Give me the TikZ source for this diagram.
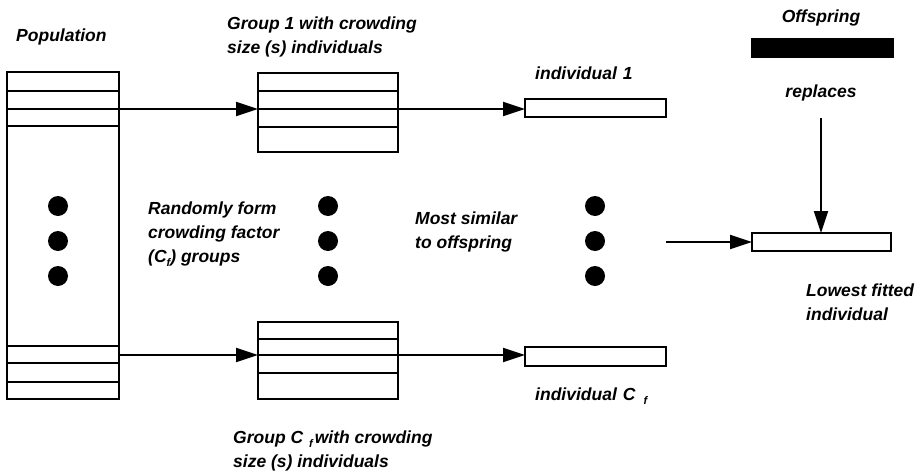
\documentclass[tikz,border=0pt]{standalone}
\usepackage{fontspec}
\setmainfont{Liberation Sans}
\usetikzlibrary{arrows.meta,calc}
\newcommand{\subf}{\raisebox{-4pt}{\fontsize{11}{11}\selectfont f}}
\tikzset{
 box/.style={draw, line width=1.9pt, inner sep=0pt, outer sep=0pt, fill=white},
 lbl/.style={font=\fontsize{17.5}{24}\selectfont\bfseries\itshape, inner sep=0pt, align=left, anchor=base west},
 lblc/.style={font=\fontsize{17.5}{24}\selectfont\bfseries\itshape, inner sep=0pt, anchor=base},
 arr/.style={line width=1.9pt, -{Triangle[length=22pt,width=14pt]}},
 bigdot/.style={circle, fill=black, minimum size=20pt, inner sep=0pt},
 rowline/.style={line width=1.9pt},
}
\begin{document}
\begin{tikzpicture}[x=1pt,y=-1pt]
\useasboundingbox (0,0) rectangle (923,471);
% boxes
\node[box, minimum width=112pt, minimum height=327pt] (pop) at (63,235.5) {};
\node[box, minimum width=140pt, minimum height=79pt] (g1) at (328,112.5) {};
\node[box, minimum width=140pt, minimum height=77pt] (gC) at (328,360.5) {};
\node[box, minimum width=141pt, minimum height=18pt] (ind1) at (595.5,108) {};
\node[box, minimum width=141pt, minimum height=19pt] (indC) at (595.5,356.5) {};
\node[box, fill=black, minimum width=141pt, minimum height=18pt] (off) at (822.5,48) {};
\node[box, minimum width=139pt, minimum height=18pt] (low) at (821.5,242) {};
% row lines
\foreach \yy in {91,109,126,346,363,382}
  \draw[rowline] (pop.west |- 0,\yy) -- (pop.east |- 0,\yy);
\foreach \yy in {91,109,127}
  \draw[rowline] (g1.west |- 0,\yy) -- (g1.east |- 0,\yy);
\foreach \yy in {339,355,373}
  \draw[rowline] (gC.west |- 0,\yy) -- (gC.east |- 0,\yy);
% dots
\node[bigdot] (d11) at (58,206) {};
\node[bigdot] (d12) at (58,241) {};
\node[bigdot] (d13) at (58,276) {};
\node[bigdot] (d21) at (328,206) {};
\node[bigdot] (d22) at (328,241) {};
\node[bigdot] (d23) at (328,276) {};
\node[bigdot] (d31) at (595,206) {};
\node[bigdot] (d32) at (595,241) {};
\node[bigdot] (d33) at (595,276) {};
% arrows
\coordinate (pA) at (pop.east |- 0,109);
\coordinate (pB) at (pop.east |- 0,355);
\draw[arr] (pA) -- (pA -| g1.west);
\draw[arr] (pA -| g1.east) -- (pA -| ind1.west);
\draw[arr] (pB) -- (pB -| gC.west);
\draw[arr] (pB -| gC.east) -- (pB -| indC.west);
\coordinate (mS) at (666,242);
\draw[arr] (mS) -- (low.west);
\coordinate (rS) at (821,118);
\draw[arr] (rS) -- (rS |- low.north);
% labels (multi-line nodes: base = last line's baseline)
\node[lbl] (tpop) at (16,41) {Population};
\node[lbl] (tg1) at (227,53) {Group 1 with crowding\\size (s) individuals};
\node[lblc] (toff) at (821,23) {Offspring};
\node[lblc] (trep) at (821,97) {replaces};
\node[lbl] (tind1) at (535,79) {individual\hspace{6pt}1};
\node[lbl] (trand) at (148,262) {Randomly form\\crowding factor\\(C\subf) groups};
\node[lbl] (tmost) at (415,248) {Most similar\\to offspring};
\node[lbl] (tlow) at (806,320) {Lowest fitted\\individual};
\node[lbl] (tindC) at (535,400) {individual\hspace{6pt}C\hspace{8pt}\subf};
\node[lbl] (tgC) at (233,467) {Group C\hspace{6pt}\subf\hspace{2pt}with crowding\\size (s) individuals};
\end{tikzpicture}
\end{document}
